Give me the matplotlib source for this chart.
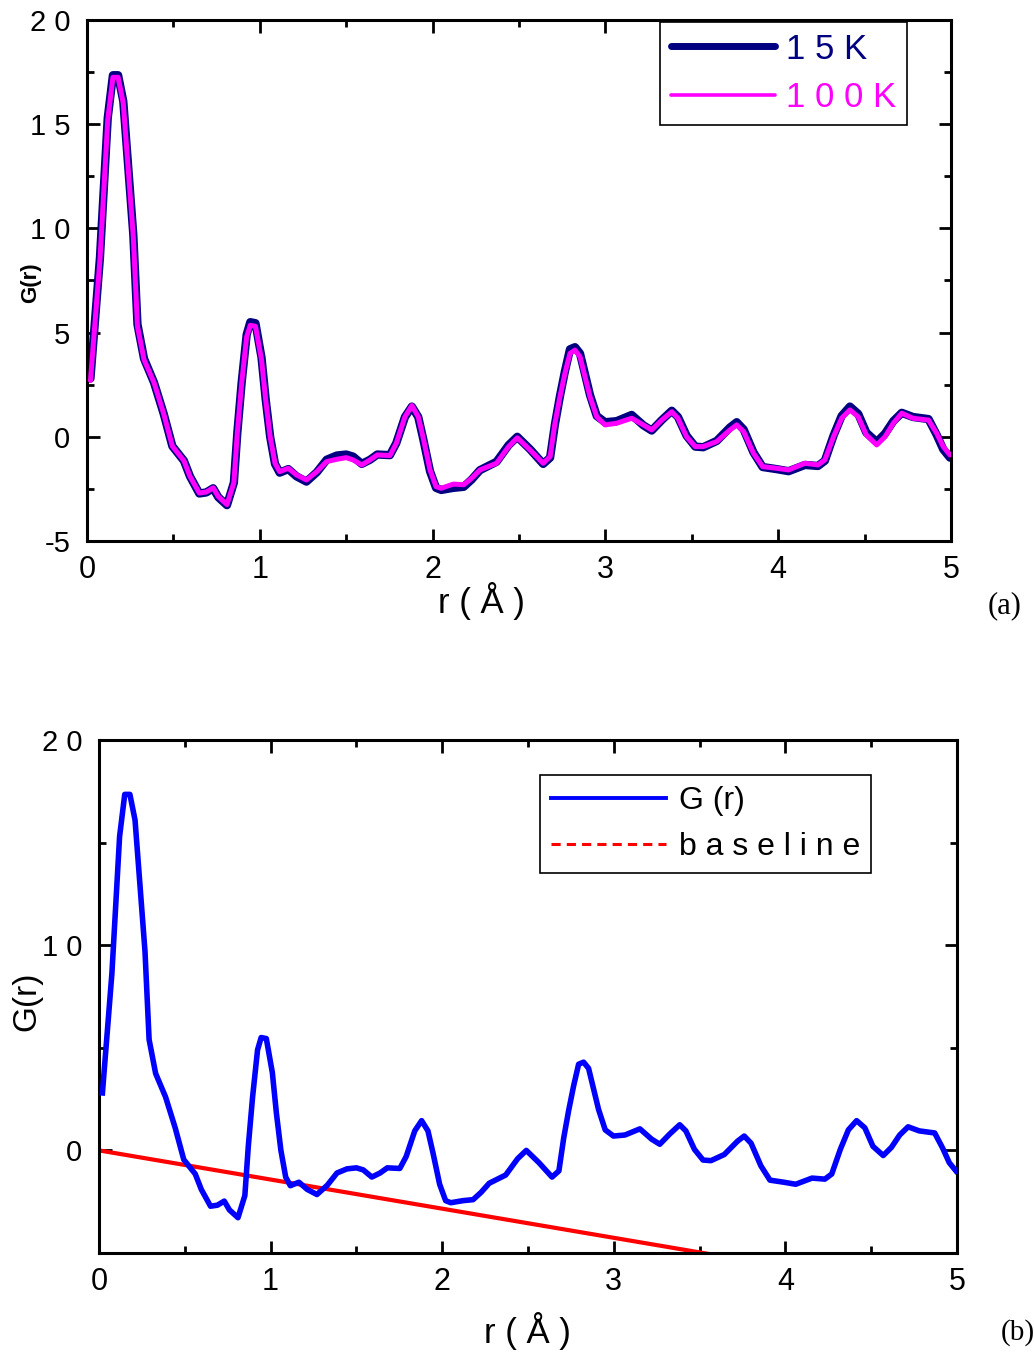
import matplotlib
matplotlib.use("Agg")
import matplotlib.pyplot as plt
from matplotlib.lines import Line2D
from matplotlib.ticker import FixedLocator, FixedFormatter, MultipleLocator

plt.rcParams["font.family"] = ["Liberation Sans", "DejaVu Sans"]

# Pair distribution function G(r), r in Angstrom
r = [0.02, 0.075, 0.12, 0.15, 0.18, 0.21, 0.268, 0.292, 0.33, 0.388,
     0.444, 0.494, 0.561, 0.596, 0.65, 0.69, 0.73, 0.76, 0.81, 0.85,
     0.87, 0.895, 0.924, 0.945, 0.975, 1.01, 1.034, 1.06, 1.088, 1.115,
     1.165, 1.213, 1.27, 1.33, 1.387, 1.445, 1.50, 1.54, 1.59, 1.638,
     1.68, 1.753, 1.79, 1.84, 1.88, 1.917, 1.947, 1.985, 2.02, 2.05,
     2.12, 2.18, 2.226, 2.274, 2.37, 2.44, 2.49, 2.564, 2.64, 2.68,
     2.708, 2.737, 2.766, 2.795, 2.824, 2.853, 2.882, 2.911, 2.95, 2.998,
     3.065, 3.152, 3.22, 3.268, 3.326, 3.384, 3.42, 3.47, 3.52, 3.566,
     3.644, 3.721, 3.76, 3.80, 3.857, 3.91, 3.99, 4.06, 4.155, 4.23,
     4.27, 4.32, 4.367, 4.415, 4.463, 4.51, 4.57, 4.618, 4.666, 4.715,
     4.78, 4.87, 4.917, 4.955, 4.994]

g_100K = [2.7, 8.5, 15.2, 17.25, 17.25, 16.0, 9.6, 5.3, 3.7, 2.6,
          1.1, -0.45, -1.15, -1.9, -2.7, -2.65, -2.45, -2.87, -3.25, -2.2,
          0.2, 2.57, 4.8, 5.35, 5.3, 3.7, 1.77, 0.0, -1.27, -1.67,
          -1.51, -1.83, -2.07, -1.67, -1.19, -1.08, -1.0, -1.11, -1.35, -1.11,
          -0.87, -0.9, -0.31, 0.96, 1.5, 0.96, -0.1, -1.59, -2.39, -2.47,
          -2.27, -2.3, -1.99, -1.59, -1.27, -0.47, -0.05, -0.63, -1.27, -0.95,
          0.65, 1.92, 3.05, 4.0, 4.16, 3.84, 2.88, 1.92, 0.96, 0.57,
          0.65, 0.89, 0.57, 0.33, 0.8, 1.2, 0.89, 0.0, -0.47, -0.47,
          -0.23, 0.33, 0.57, 0.25, -0.79, -1.43, -1.51, -1.59, -1.27, -1.35,
          -1.11, 0.0, 0.89, 1.29, 0.96, 0.09, -0.39, 0.0, 0.65, 1.13,
          0.89, 0.8, 0.17, -0.47, -0.87]

g_15K = [2.8, 8.6, 15.3, 17.35, 17.35, 16.1, 9.7, 5.4, 3.75, 2.6,
         1.1, -0.45, -1.15, -1.9, -2.72, -2.67, -2.47, -2.9, -3.28, -2.2,
         0.2, 2.6, 4.9, 5.5, 5.45, 3.8, 1.8, 0.0, -1.3, -1.72,
         -1.55, -1.9, -2.15, -1.7, -1.1, -0.9, -0.85, -0.95, -1.3, -1.1,
         -0.85, -0.88, -0.3, 0.95, 1.45, 0.95, -0.15, -1.65, -2.45, -2.55,
         -2.45, -2.4, -2.05, -1.6, -1.2, -0.4, 0.0, -0.6, -1.3, -1.0,
         0.6, 1.95, 3.15, 4.2, 4.3, 4.0, 3.0, 2.0, 1.0, 0.7,
         0.75, 1.05, 0.55, 0.3, 0.8, 1.25, 0.95, 0.05, -0.47, -0.5,
         -0.2, 0.45, 0.7, 0.35, -0.75, -1.45, -1.55, -1.65, -1.35, -1.4,
         -1.15, 0.05, 1.0, 1.45, 1.1, 0.2, -0.25, 0.15, 0.75, 1.15,
         0.95, 0.85, 0.1, -0.6, -1.0]

# Linear baseline -4*pi*rho0*r
baseline_r = [0.0, 5.0]
baseline_slope = -1.42

x_ticks = [0, 1, 2, 3, 4, 5]
x_ticklabels = ["0", "1", "2", "3", "4", "5"]
ya_ticks = [-5, 0, 5, 10, 15, 20]
ya_ticklabels = ["-5", "0", "5", "1 0", "1 5", "2 0"]
yb_ticks = [0, 10, 20]
yb_ticklabels = ["0", "1 0", "2 0"]

NAVY = "#000080"
MAGENTA = "#FF00FF"
BLUE = "#0000FF"
RED = "#FF0000"

fig = plt.figure(figsize=(10.34, 13.52), dpi=100)
ax_a = fig.add_axes([87 / 1034, 1 - 541 / 1352, 864 / 1034, 521 / 1352])
ax_b = fig.add_axes([99 / 1034, 1 - 1253 / 1352, 858 / 1034, 513 / 1352])


def style_axes(ax, yticks, yticklabels, yminor):
    ax.set_xlim(0, 5)
    ax.set_ylim(-5, 20)
    ax.xaxis.set_major_locator(FixedLocator(x_ticks))
    ax.xaxis.set_major_formatter(FixedFormatter(x_ticklabels))
    ax.xaxis.set_minor_locator(MultipleLocator(0.5))
    ax.yaxis.set_major_locator(FixedLocator(yticks))
    ax.yaxis.set_major_formatter(FixedFormatter(yticklabels))
    ax.yaxis.set_minor_locator(MultipleLocator(yminor))
    for s in ax.spines.values():
        s.set_linewidth(2.2)
    ax.tick_params(which="both", direction="in", top=True, right=True,
                   width=2.0, colors="black")
    ax.tick_params(which="major", length=9)
    ax.tick_params(which="minor", length=5)
    ax.tick_params(axis="x", which="major", labelsize=22, pad=10)
    ax.tick_params(axis="y", which="major", labelsize=21, pad=12)


# (a) two temperatures
style_axes(ax_a, ya_ticks, ya_ticklabels, 2.5)
ax_a.plot(r, g_15K, color=NAVY, lw=6.0, solid_capstyle="round",
          solid_joinstyle="round", zorder=2)
ax_a.plot(r, g_100K, color=MAGENTA, lw=3.6, solid_capstyle="round",
          solid_joinstyle="round", zorder=3)
ax_a.set_xlabel("r ( Å )", fontsize=25, va="top")
ax_a.xaxis.set_label_coords(0.457, -0.078)
ax_a.set_ylabel("G(r)", fontsize=16, fontweight="bold")
ax_a.yaxis.label.set(ha="center", va="center", rotation_mode="anchor")
ax_a.yaxis.set_label_coords(-0.065, 0.495)

handles_a = [Line2D([], [], color=NAVY, lw=5.0, solid_capstyle="round"),
             Line2D([], [], color=MAGENTA, lw=2.6, solid_capstyle="round")]
leg_a = ax_a.legend(handles_a, ["1 5 K", "1 0 0 K"], loc="upper right",
                    bbox_to_anchor=(0.949, 0.996), borderaxespad=0,
                    fontsize=25, handlelength=3.0, handletextpad=0.33,
                    labelspacing=0.45, borderpad=0.3, fancybox=False,
                    framealpha=1, edgecolor="black")
leg_a.get_frame().set_linewidth(1.2)
for txt, c in zip(leg_a.get_texts(), [NAVY, MAGENTA]):
    txt.set_color(c)

# (b) G(r) with the linear baseline
style_axes(ax_b, yb_ticks, yb_ticklabels, 5)
ax_b.plot(r, g_15K, color=BLUE, lw=4.0, solid_joinstyle="round", zorder=3)
ax_b.plot(baseline_r, [baseline_slope * v for v in baseline_r], color=RED,
          lw=3.0, zorder=2)
ax_b.set_xlabel("r ( Å )", fontsize=25, va="top")
ax_b.xaxis.set_label_coords(0.499, -0.115)
ax_b.set_ylabel("G(r)", fontsize=24)
ax_b.yaxis.label.set(ha="center", va="center", rotation_mode="anchor")
ax_b.yaxis.set_label_coords(-0.084, 0.49)

handles_b = [Line2D([], [], color=BLUE, lw=2.8),
             Line2D([], [], color=RED, lw=2.2, ls=(0, (3, 2)))]
leg_b = ax_b.legend(handles_b, ["G (r)", "b a s e l i n e"], loc="upper right",
                    bbox_to_anchor=(0.900, 0.932), borderaxespad=0,
                    fontsize=23, handlelength=3.6, handletextpad=0.4,
                    labelspacing=0.5, borderpad=0.35, fancybox=False,
                    framealpha=1, edgecolor="black")
leg_b.get_frame().set_linewidth(1.2)

fig.text(988 / 1034, 1 - 606 / 1352, "(a)", fontsize=22,
         family="Liberation Serif", ha="left", va="center")
fig.text(1001 / 1034, 1 - 1333 / 1352, "(b)", fontsize=21,
         family="Liberation Serif", ha="left", va="center")

fig.savefig("out.png", dpi=100)
